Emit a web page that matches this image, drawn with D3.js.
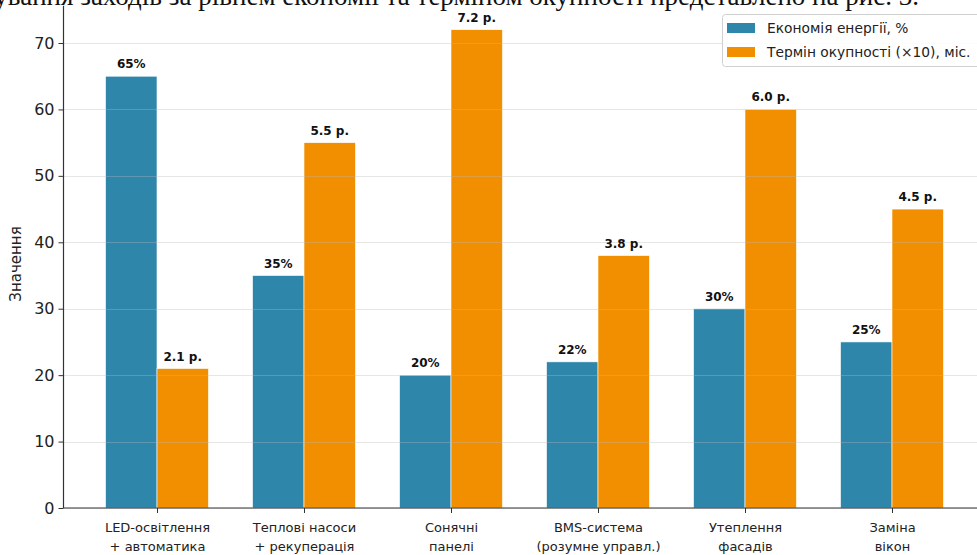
<!DOCTYPE html>
<html><head><meta charset="utf-8">
<script src="https://cdn.jsdelivr.net/npm/d3@7"></script>
<style>
html,body{margin:0;padding:0;background:#fff;}
svg{display:block;}
</style>
</head><body>
<svg id="chart" width="977" height="555"></svg>
<script>
const categories = [
  ["LED-освітлення", "+ автоматика"],
  ["Теплові насоси", "+ рекуперація"],
  ["Сонячні", "панелі"],
  ["BMS-система", "(розумне управл.)"],
  ["Утеплення", "фасадів"],
  ["Заміна", "вікон"]
];
const savings = [65, 35, 20, 22, 30, 25];
const payback = [21, 55, 72, 38, 60, 45];
const savingsLabels = ["65%", "35%", "20%", "22%", "30%", "25%"];
const paybackLabels = ["2.1 р.", "5.5 р.", "7.2 р.", "3.8 р.", "6.0 р.", "4.5 р."];
const yTicks = [0, 10, 20, 30, 40, 50, 60, 70];
const seriesNames = ["Економія енергії, %", "Термін окупності (×10), міс."];
const colors = ["#2E86AB", "#F18F01"];
const topText = "Ранжування заходів за рівнем економії та терміном окупності представлено на рис. 3.";

const svg = d3.select("#chart");
const font = "'DejaVu Sans', sans-serif";
const keys = categories.map((c, i) => c.join(" "));

const x = d3.scalePoint().domain(keys).range([157, 892]);
const y = d3.scaleLinear().domain([0, 75.6]).range([508, 5.8]);
const bw = 51.45;
const spineLeft = 63.5;

// top caption text (cropped by the picture edge)
svg.append("text")
  .attr("x", 919).attr("y", 5)
  .attr("text-anchor", "end")
  .attr("font-family", "'Liberation Serif', 'Times New Roman', serif")
  .attr("font-size", 27)
  .attr("fill", "#111")
  .text(topText);

// bars
const series = [savings, payback];
series.forEach((vals, s) => {
  svg.append("g").selectAll("rect").data(vals).join("rect")
    .attr("x", (d, i) => x(keys[i]) + (s === 0 ? -bw : 0))
    .attr("y", d => y(d))
    .attr("width", bw)
    .attr("height", d => y(0) - y(d))
    .attr("fill", colors[s])
    .attr("stroke", "#fff").attr("stroke-width", 0.6);
});

// grid (drawn faintly over bars)
svg.append("g").selectAll("line").data(yTicks).join("line")
  .attr("x1", spineLeft).attr("x2", 977)
  .attr("y1", d => Math.round(y(d)) + 0.5).attr("y2", d => Math.round(y(d)) + 0.5)
  .attr("stroke", "#b8b8b8").attr("stroke-opacity", 0.35).attr("stroke-width", 1);

// bar labels
const labels = [savingsLabels, paybackLabels];
series.forEach((vals, s) => {
  svg.append("g").selectAll("text").data(vals).join("text")
    .attr("x", (d, i) => x(keys[i]) + (s === 0 ? -bw / 2 : bw / 2))
    .attr("y", d => y(d) - 8)
    .attr("text-anchor", "middle")
    .attr("font-family", font).attr("font-weight", "bold")
    .attr("font-size", 12).attr("fill", "#111")
    .text((d, i) => labels[s][i]);
});

// y axis
const yAxis = d3.axisLeft(y).tickValues(yTicks).tickSize(5).tickPadding(4);
const gy = svg.append("g").attr("transform", `translate(${spineLeft},0)`).call(yAxis);
gy.select(".domain").remove();
gy.selectAll(".tick line").attr("stroke", "#333").attr("stroke-width", 1);
gy.selectAll(".tick text").attr("font-family", font).attr("font-size", 16).attr("fill", "#222");
svg.append("line").attr("x1", spineLeft).attr("x2", spineLeft).attr("y1", y(0)).attr("y2", y(75.6))
  .attr("stroke", "#333").attr("stroke-width", 1.2);

// x axis
const xAxis = d3.axisBottom(x).tickSize(5).tickFormat("");
const gx = svg.append("g").attr("transform", `translate(0,${y(0)})`).call(xAxis);
gx.select(".domain").remove();
gx.selectAll(".tick line").attr("stroke", "#333");
svg.append("line").attr("x1", spineLeft).attr("x2", 977).attr("y1", y(0)).attr("y2", y(0))
  .attr("stroke", "#333").attr("stroke-width", 1.2);
gx.selectAll(".tick").each(function(d, i) {
  const t = d3.select(this).append("text")
    .attr("text-anchor", "middle")
    .attr("font-family", font).attr("font-size", 13).attr("fill", "#222");
  categories[i].forEach((line, k) => {
    t.append("tspan").attr("x", 0).attr("y", 24 + k * 19).text(line);
  });
});

// y label
svg.append("text")
  .attr("transform", "translate(21,264) rotate(-90)")
  .attr("text-anchor", "middle")
  .attr("font-family", font).attr("font-size", 15).attr("fill", "#222")
  .text("Значення");

// legend
const lg = svg.append("g");
lg.append("rect").attr("x", 722.5).attr("y", 14.5).attr("width", 280).attr("height", 52)
  .attr("rx", 3).attr("fill", "#fff").attr("fill-opacity", 0.85)
  .attr("stroke", "#d0d0d0");
seriesNames.forEach((n, i) => {
  lg.append("rect").attr("x", 727).attr("y", 23 + i * 24).attr("width", 28).attr("height", 10)
    .attr("fill", colors[i]);
  lg.append("text").attr("x", 767).attr("y", 33 + i * 24)
    .attr("font-family", font).attr("font-size", 13.8).attr("fill", "#222").text(n);
});
</script>
</body></html>
